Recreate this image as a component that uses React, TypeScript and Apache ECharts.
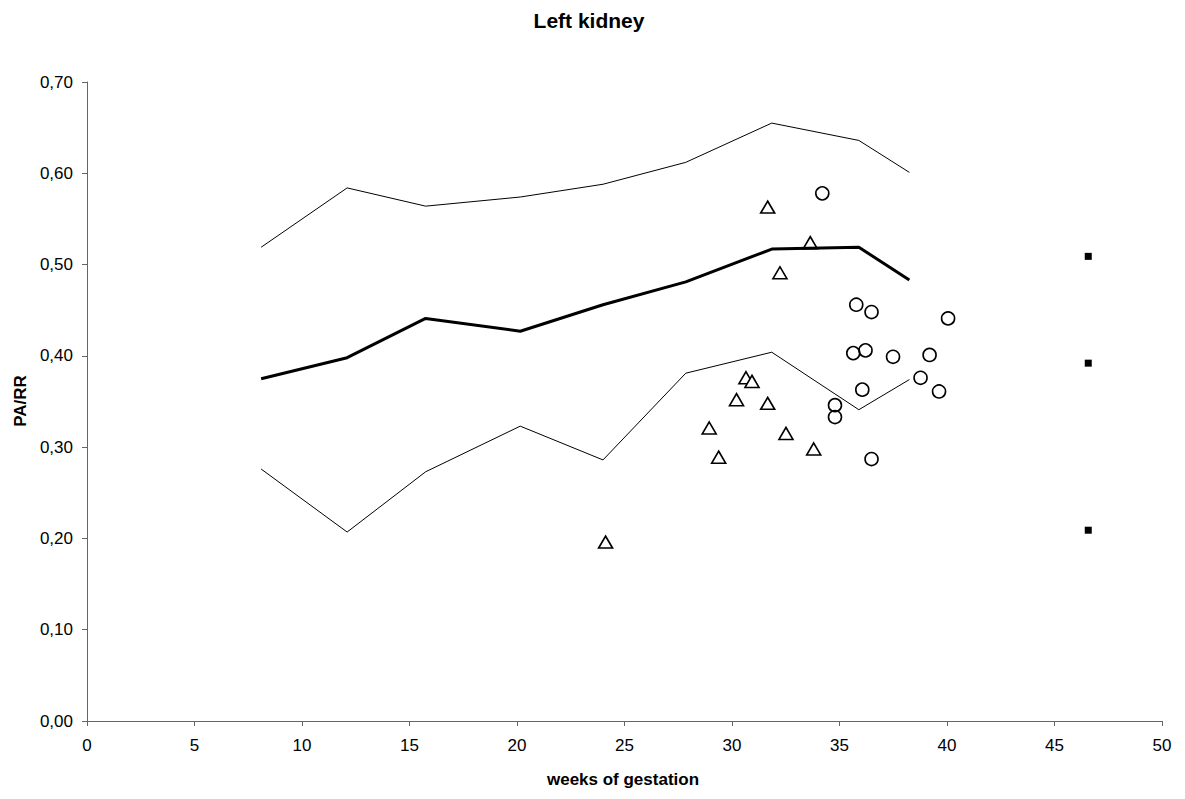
import React, { useEffect, useRef } from "react";
import * as echarts from "echarts";

const weeks = [8.1, 12.1, 15.75, 20.15, 24.0, 27.85, 31.85, 35.9, 38.25];
const upper = [0.519, 0.584, 0.564, 0.574, 0.588, 0.612, 0.655, 0.636, 0.601];
const mean = [0.375, 0.398, 0.441, 0.427, 0.456, 0.481, 0.517, 0.519, 0.483];
const lower = [0.276, 0.207, 0.273, 0.323, 0.286, 0.381, 0.404, 0.341, 0.374];

const triX = [31.66, 33.64, 32.23, 30.65, 30.93, 30.21, 31.66, 28.94, 32.51, 33.8, 29.38, 24.12];
const triY = [0.563, 0.524, 0.491, 0.376, 0.372, 0.352, 0.348, 0.321, 0.315, 0.298, 0.289, 0.196];

const circX = [34.2, 35.78, 36.49, 40.05, 35.64, 36.21, 37.49, 39.19, 38.77, 39.63, 36.06, 34.79, 34.79, 36.49];
const circY = [0.578, 0.456, 0.448, 0.441, 0.403, 0.406, 0.399, 0.401, 0.376, 0.361, 0.363, 0.346, 0.333, 0.287];

const sqX = [46.57, 46.57, 46.57];
const sqY = [0.509, 0.392, 0.209];

const FONT = "Liberation Sans, Arial, sans-serif";

const zip = (xs: number[], ys: number[]) => xs.map((x, i) => [x, ys[i]]);

export default function App() {
  const ref = useRef<HTMLDivElement>(null);
  useEffect(() => {
    if (!ref.current) return;
    const chart = echarts.init(ref.current, undefined, { renderer: "svg" });
    const axisLine = { show: true, lineStyle: { color: "#666", width: 1 } };
    const axisTick = { show: true, inside: false, length: 5, lineStyle: { color: "#666", width: 1 } };
    chart.setOption({
      animation: false,
      backgroundColor: "#fff",
      grid: { left: 87, top: 82, width: 1075, height: 639, containLabel: false },
      xAxis: {
        type: "value",
        min: 0,
        max: 50,
        interval: 5,
        axisLine,
        axisTick,
        splitLine: { show: false },
        axisLabel: { color: "#000", fontSize: 17, fontFamily: FONT, margin: 16 },
      },
      yAxis: {
        type: "value",
        min: 0,
        max: 0.7,
        interval: 0.1,
        axisLine,
        axisTick,
        splitLine: { show: false },
        axisLabel: {
          color: "#000",
          fontSize: 17,
          fontFamily: FONT,
          margin: 14,
          formatter: (v: number) => v.toFixed(2).replace(".", ","),
        },
      },
      graphic: [
        {
          type: "text",
          x: 589,
          y: 20,
          style: {
            text: "Left kidney",
            fontSize: 21,
            fontWeight: "bold",
            fontFamily: FONT,
            fill: "#000",
            textAlign: "center",
            textVerticalAlign: "middle",
          },
        },
        {
          type: "text",
          x: 623,
          y: 779,
          style: {
            text: "weeks of gestation",
            fontSize: 17,
            fontWeight: "bold",
            fontFamily: FONT,
            fill: "#000",
            textAlign: "center",
            textVerticalAlign: "middle",
          },
        },
        {
          type: "text",
          x: 20,
          y: 401,
          rotation: Math.PI / 2,
          style: {
            text: "PA/RR",
            fontSize: 17,
            fontWeight: "bold",
            fontFamily: FONT,
            fill: "#000",
            textAlign: "center",
            textVerticalAlign: "middle",
          },
        },
      ],
      series: [
        {
          type: "line",
          data: zip(weeks, upper),
          showSymbol: false,
          symbol: "none",
          lineStyle: { color: "#000", width: 1 },
        },
        {
          type: "line",
          data: zip(weeks, mean),
          showSymbol: false,
          symbol: "none",
          lineStyle: { color: "#000", width: 3 },
        },
        {
          type: "line",
          data: zip(weeks, lower),
          showSymbol: false,
          symbol: "none",
          lineStyle: { color: "#000", width: 1 },
        },
        {
          type: "scatter",
          data: zip(triX, triY),
          symbol: "triangle",
          symbolSize: [14, 12],
          itemStyle: { color: "#fff", borderColor: "#000", borderWidth: 1.6, opacity: 1 },
        },
        {
          type: "scatter",
          data: zip(circX, circY),
          symbol: "circle",
          symbolSize: 13,
          itemStyle: { color: "rgba(255,255,255,0)", borderColor: "#000", borderWidth: 1.6, opacity: 1 },
        },
        {
          type: "scatter",
          data: zip(sqX, sqY),
          symbol: "rect",
          symbolSize: 7,
          itemStyle: { color: "#000", opacity: 1 },
        },
      ],
    });
    return () => chart.dispose();
  }, []);
  return (
    <div
      ref={ref}
      style={{ position: "absolute", left: 0, top: 0, width: 1185, height: 799 }}
    />
  );
}
